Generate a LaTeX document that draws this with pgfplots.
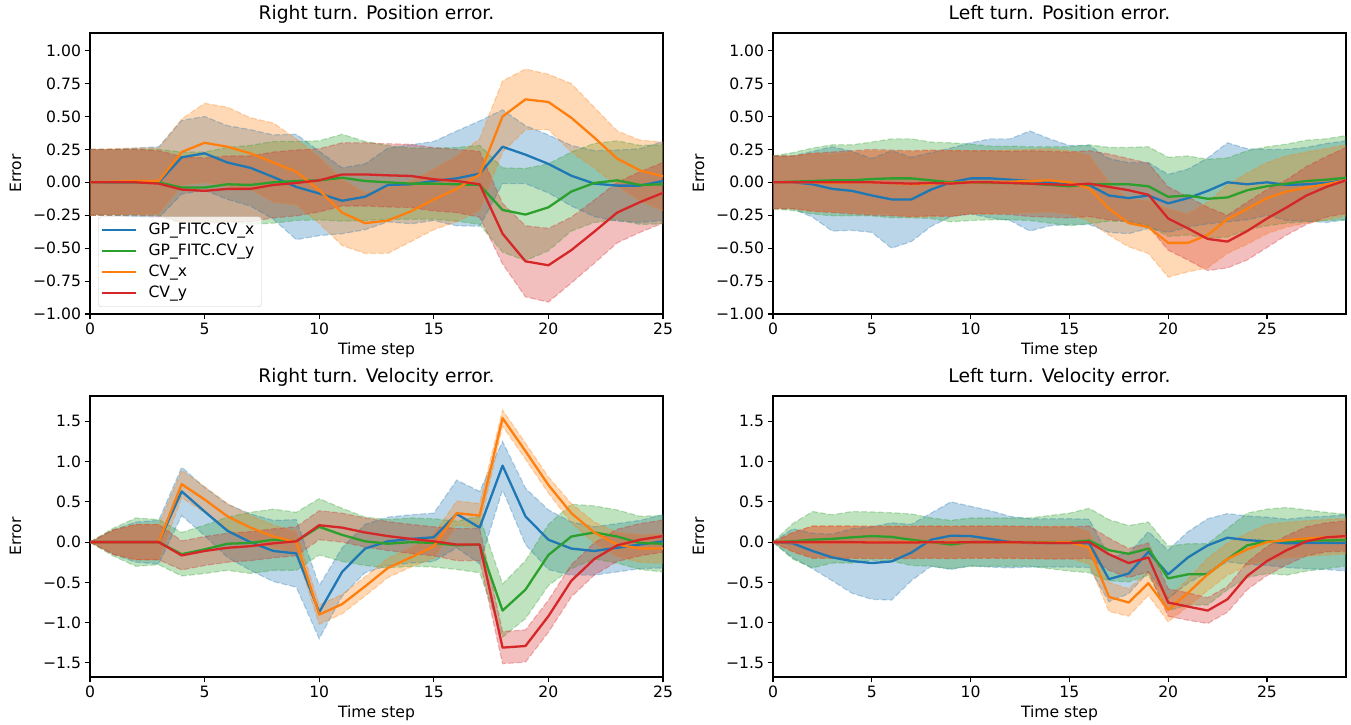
\documentclass[border=0pt]{standalone}
\usepackage{fontspec}
\setmainfont{DejaVu Sans}
\usepackage{pgfplots}
\usepackage{pgfplotstable}
\pgfplotsset{compat=1.18}
\usepgfplotslibrary{fillbetween}

\definecolor{cB}{HTML}{1F77B4}
\definecolor{cO}{HTML}{FF7F0E}
\definecolor{cG}{HTML}{2CA02C}
\definecolor{cR}{HTML}{D62728}

\pgfplotstableread{
t bm bs gm gs om os rm rs
0 0 0.25 0 0.25 0 0.25 0 0.25
1 0 0.25 0 0.25 0.005 0.25 0 0.25
2 0 0.26 0 0.25 0.01 0.25 0 0.25
3 0 0.27 0 0.25 0.01 0.25 -0.01 0.25
4 0.19 0.28 -0.04 0.27 0.23 0.25 -0.055 0.25
5 0.22 0.28 -0.04 0.27 0.30 0.30 -0.065 0.25
6 0.15 0.28 -0.015 0.28 0.27 0.30 -0.05 0.25
7 0.11 0.29 -0.02 0.30 0.22 0.27 -0.05 0.25
8 0.04 0.32 0 0.31 0.15 0.30 -0.02 0.25
9 -0.035 0.40 0.01 0.30 0.08 0.25 -0.005 0.25
10 -0.085 0.32 0.015 0.30 -0.06 0.25 0.015 0.24
11 -0.14 0.25 0.035 0.33 -0.23 0.25 0.06 0.24
12 -0.11 0.25 0.01 0.30 -0.31 0.23 0.06 0.24
13 -0.02 0.28 0 0.28 -0.29 0.25 0.053 0.24
14 -0.015 0.30 -0.01 0.27 -0.22 0.23 0.048 0.24
15 0.01 0.30 -0.01 0.27 -0.13 0.23 0.023 0.24
16 0.03 0.36 -0.015 0.28 -0.05 0.25 0.01 0.24
17 0.066 0.40 -0.02 0.30 0.06 0.27 -0.015 0.25
18 0.27 0.28 -0.21 0.32 0.50 0.27 -0.39 0.23
19 0.21 0.22 -0.245 0.35 0.63 0.23 -0.60 0.27
20 0.14 0.22 -0.19 0.33 0.61 0.21 -0.63 0.28
21 0.05 0.23 -0.07 0.30 0.49 0.26 -0.515 0.25
22 -0.01 0.25 -0.005 0.30 0.34 0.23 -0.375 0.24
23 -0.025 0.27 0.015 0.30 0.18 0.21 -0.23 0.23
24 -0.025 0.28 -0.02 0.30 0.09 0.23 -0.15 0.23
25 0.01 0.30 -0.015 0.30 0.045 0.26 -0.08 0.23
}\TLdata

\pgfplotstableread{
t bm bs gm gs om os rm rs
0 0 0.2 0 0.2 0 0.2 0 0.2
1 0 0.2 0.005 0.22 0 0.2 0 0.2
2 -0.015 0.25 0.01 0.25 0 0.22 0 0.22
3 -0.05 0.32 0.015 0.27 -0.005 0.22 0 0.23
4 -0.065 0.3 0.015 0.27 0 0.23 0 0.24
5 -0.1 0.28 0.025 0.28 0 0.24 0 0.25
6 -0.13 0.37 0.03 0.3 -0.005 0.24 -0.005 0.25
7 -0.13 0.32 0.03 0.3 -0.015 0.25 -0.01 0.25
8 -0.055 0.28 0.015 0.29 -0.01 0.25 -0.005 0.25
9 0 0.26 0 0.3 -0.005 0.25 -0.01 0.25
10 0.03 0.27 0 0.29 0 0.24 0 0.24
11 0.03 0.3 -0.005 0.28 0 0.24 0 0.24
12 0.02 0.31 -0.005 0.28 0.005 0.24 -0.005 0.24
13 0.01 0.38 -0.01 0.28 0.01 0.24 -0.01 0.25
14 0 0.33 -0.02 0.29 0.015 0.24 -0.015 0.25
15 -0.02 0.3 -0.03 0.3 0 0.24 -0.02 0.25
16 -0.02 0.3 -0.015 0.3 -0.045 0.25 -0.01 0.25
17 -0.1 0.28 -0.015 0.28 -0.2 0.2 -0.035 0.25
18 -0.12 0.27 -0.015 0.28 -0.31 0.18 -0.06 0.24
19 -0.1 0.25 -0.03 0.3 -0.34 0.2 -0.095 0.24
20 -0.16 0.22 -0.11 0.3 -0.46 0.26 -0.275 0.24
21 -0.12 0.22 -0.1 0.3 -0.46 0.22 -0.35 0.24
22 -0.065 0.25 -0.125 0.3 -0.4 0.25 -0.43 0.24
23 0 0.3 -0.115 0.3 -0.28 0.26 -0.45 0.2
24 -0.015 0.27 -0.06 0.3 -0.2 0.27 -0.37 0.22
25 0 0.25 -0.03 0.3 -0.12 0.27 -0.275 0.22
26 -0.02 0.27 -0.01 0.3 -0.07 0.27 -0.19 0.21
27 -0.015 0.28 0.01 0.31 -0.04 0.27 -0.1 0.22
28 -0.005 0.3 0.02 0.31 -0.015 0.27 -0.035 0.23
29 0.015 0.3 0.035 0.32 0.015 0.27 0.015 0.25
}\TRdata

\pgfplotstableread{
t bm bs gm gs om os rm rs
0 0 0 0 0 0 0 0 0
1 0 0.15 0 0.17 0 0.15 0 0.15
2 0 0.25 0 0.3 0 0.22 0 0.22
3 0 0.27 0 0.28 0 0.22 0 0.22
4 0.63 0.3 -0.15 0.27 0.72 0.17 -0.165 0.18
5 0.38 0.3 -0.09 0.3 0.53 0.16 -0.11 0.18
6 0.14 0.33 -0.02 0.33 0.32 0.16 -0.07 0.18
7 0 0.35 -0.01 0.38 0.18 0.15 -0.05 0.18
8 -0.11 0.38 0.03 0.38 0.07 0.14 -0.015 0.18
9 -0.14 0.42 0.01 0.36 0 0.13 0.01 0.18
10 -0.87 0.33 0.19 0.35 -0.9 0.12 0.21 0.18
11 -0.37 0.3 0.09 0.33 -0.77 0.12 0.18 0.18
12 -0.08 0.3 0.01 0.3 -0.55 0.12 0.12 0.18
13 0.01 0.3 -0.02 0.3 -0.32 0.12 0.075 0.18
14 0.04 0.3 0 0.3 -0.19 0.12 0.04 0.18
15 0.06 0.3 -0.01 0.3 -0.05 0.15 0.01 0.18
16 0.35 0.42 -0.04 0.3 0.36 0.15 -0.03 0.2
17 0.18 0.45 -0.03 0.35 0.33 0.15 -0.03 0.2
18 0.95 0.3 -0.85 0.33 1.54 0.1 -1.31 0.2
19 0.32 0.35 -0.59 0.36 1.13 0.1 -1.29 0.2
20 0.03 0.37 -0.16 0.38 0.71 0.1 -0.92 0.2
21 -0.08 0.33 0.07 0.4 0.36 0.12 -0.48 0.2
22 -0.11 0.3 0.12 0.33 0.12 0.13 -0.21 0.2
23 -0.07 0.3 0.07 0.33 -0.03 0.15 -0.04 0.2
24 -0.03 0.3 -0.01 0.33 -0.08 0.17 0.03 0.2
25 0.01 0.33 -0.02 0.35 -0.08 0.18 0.075 0.2
}\BLdata

\pgfplotstableread{
t bm bs gm gs om os rm rs
0 0 0 0 0 0 0 0 0
1 -0.015 0.18 0.01 0.22 0 0.12 0 0.12
2 -0.11 0.22 0.03 0.35 0 0.2 0 0.2
3 -0.19 0.29 0.04 0.3 0 0.2 0 0.2
4 -0.235 0.4 0.06 0.32 0 0.2 0 0.2
5 -0.26 0.45 0.075 0.3 0 0.2 -0.005 0.2
6 -0.24 0.48 0.065 0.3 0 0.2 -0.005 0.2
7 -0.13 0.35 0.03 0.32 0 0.2 -0.005 0.2
8 0.03 0.33 0 0.3 0 0.2 0 0.2
9 0.08 0.42 -0.03 0.3 0 0.2 -0.005 0.2
10 0.075 0.37 0 0.3 0 0.2 0 0.2
11 0.04 0.35 0 0.3 0 0.2 0 0.2
12 0 0.32 0 0.3 -0.005 0.2 0 0.2
13 -0.01 0.3 0 0.3 -0.005 0.2 -0.005 0.2
14 -0.01 0.3 0 0.33 -0.005 0.2 -0.01 0.2
15 -0.01 0.3 0 0.36 0 0.2 -0.01 0.2
16 -0.015 0.3 0.02 0.4 -0.07 0.2 0 0.2
17 -0.46 0.28 -0.1 0.38 -0.68 0.18 -0.15 0.2
18 -0.39 0.25 -0.145 0.35 -0.75 0.17 -0.26 0.18
19 -0.12 0.25 -0.08 0.33 -0.51 0.15 -0.19 0.18
20 -0.4 0.3 -0.45 0.4 -0.84 0.15 -0.75 0.17
21 -0.19 0.32 -0.4 0.38 -0.63 0.17 -0.8 0.17
22 -0.04 0.33 -0.4 0.38 -0.4 0.2 -0.85 0.16
23 0.055 0.3 -0.21 0.38 -0.21 0.2 -0.71 0.16
24 0.025 0.3 -0.04 0.4 -0.09 0.2 -0.42 0.17
25 0.01 0.3 0.01 0.4 0 0.22 -0.235 0.18
26 -0.015 0.3 0.01 0.42 0.025 0.22 -0.1 0.18
27 -0.01 0.32 0.02 0.38 0.045 0.22 0.01 0.18
28 -0.01 0.33 0.02 0.35 0.06 0.22 0.06 0.18
29 -0.01 0.35 0.025 0.32 0.075 0.22 0.075 0.19
}\BRdata

\newcommand{\band}[4]{%
  \addplot[forget plot, name path=#2u, draw=#4, draw opacity=0.3, line width=1.2bp, dash pattern=on 5.8bp off 2.5bp]
    table[x=t, y expr=\thisrow{#2}+\thisrow{#3}] {#1};
  \addplot[forget plot, name path=#2l, draw=#4, draw opacity=0.3, line width=1.2bp, dash pattern=on 5.8bp off 2.5bp]
    table[x=t, y expr=\thisrow{#2}-\thisrow{#3}] {#1};
  \addplot[forget plot, fill=#4, fill opacity=0.3, draw=none] fill between[of=#2u and #2l];
}
\newcommand{\allseries}[1]{%
  \band{#1}{bm}{bs}{cB}
  \band{#1}{gm}{gs}{cG}
  \band{#1}{om}{os}{cO}
  \band{#1}{rm}{rs}{cR}
  \addplot[cB, line width=2.3bp, line join=round] table[x=t, y=bm] {#1};
  \addplot[cG, line width=2.3bp, line join=round] table[x=t, y=gm] {#1};
  \addplot[cO, line width=2.3bp, line join=round] table[x=t, y=om] {#1};
  \addplot[cR, line width=2.3bp, line join=round] table[x=t, y=rm] {#1};
}

\pgfplotsset{
  myax/.style={
    scale only axis, width=573bp, height=281bp,
    axis line style={line width=1.1bp, black},
    tick align=outside, tick pos=left,
    major tick length=5.5bp,
    tick style={line width=1.1bp, black},
    tick label style={font=\fontsize{15.6bp}{18bp}\selectfont},
    label style={font=\fontsize{15.6bp}{18bp}\selectfont},
    title style={font=\fontsize{18.7bp}{22bp}\selectfont, at={(axis description cs:0.5,1.028)}, anchor=base},
    xlabel={Time step}, ylabel={Error},
    xlabel style={at={(axis description cs:0.5,-0.128)}, anchor=center},
    ylabel style={at={(axis description cs:-0.13,0.5)}, anchor=center},
    xtick={0,5,10,15,20,25}, xticklabels={0,5,10,15,20,25},
    xmin=0,
  },
  posax/.style={myax, ymin=-1, ymax=1.134,
    ytick={-1,-0.75,-0.5,-0.25,0,0.25,0.5,0.75,1},
    yticklabels={−1.00,−0.75,−0.50,−0.25,0.00,0.25,0.50,0.75,1.00}},
  velax/.style={myax, ymin=-1.675, ymax=1.815,
    ytick={-1.5,-1,-0.5,0,0.5,1,1.5},
    yticklabels={−1.5,−1.0,−0.5,0.0,0.5,1.0,1.5}},
}

\begin{document}
\begin{tikzpicture}

\begin{axis}[posax, at={(90bp,411bp)}, anchor=south west, xmax=25,
  title={Right turn. Position error.},
  legend style={at={(axis description cs:0.014,0.025)}, anchor=south west,
    draw=black!20, fill=white, fill opacity=0.8, text opacity=1, rounded corners=3bp,
    font=\fontsize{15.6bp}{18bp}\selectfont, inner xsep=3bp, inner ysep=3bp,
    column sep=7bp,
    nodes={inner xsep=4bp, inner ysep=3bp, text height=11.5bp, text depth=3.5bp}},
  legend cell align=left,
  legend image code/.code={\draw[#1] (0bp,0bp) -- (34bp,0bp);}]
\allseries{\TLdata}
\legend{GP\_FITC.CV\_x, GP\_FITC.CV\_y, CV\_x, CV\_y}
\end{axis}

\begin{axis}[posax, at={(773bp,411bp)}, anchor=south west, xmax=29,
  title={Left turn. Position error.}]
\allseries{\TRdata}
\end{axis}

\begin{axis}[velax, at={(90bp,48bp)}, anchor=south west, xmax=25,
  title={Right turn. Velocity error.}]
\allseries{\BLdata}
\end{axis}

\begin{axis}[velax, at={(773bp,48bp)}, anchor=south west, xmax=29,
  title={Left turn. Velocity error.}]
\allseries{\BRdata}
\end{axis}

\pgfresetboundingbox
\useasboundingbox (0,0) rectangle (1351bp,725bp);
\end{tikzpicture}
\end{document}
